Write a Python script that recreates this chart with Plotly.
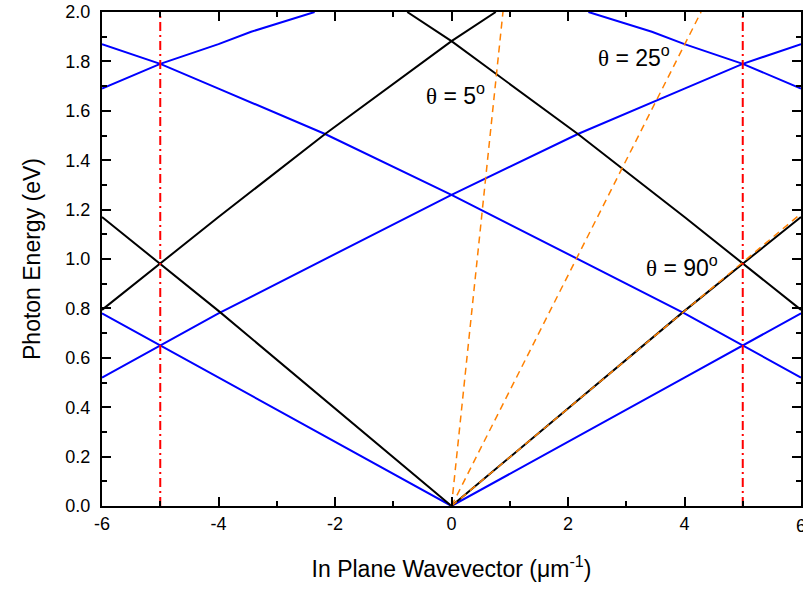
import numpy as np
import plotly.graph_objects as go

# Folded photon branches (k in 1/um, E in eV)
black_k0 = [-6, -5, -4, 0, 4, 5, 6]
black_e0 = [1.17, 0.981, 0.79, 0.0, 0.79, 0.981, 1.17]
black_kp = [-6, -5, -4, -2.17, 0, 0.76]
black_ep = [0.794, 0.981, 1.17, 1.506, 1.882, 2.0]
black_km = [6, 5, 4, 2.17, 0, -0.76]
black_em = [0.794, 0.981, 1.17, 1.506, 1.882, 2.0]

# Folded guided-mode branches
blue_k0 = [-6, -5, -4, 0, 4, 5, 6]
blue_e0 = [0.78, 0.65, 0.52, 0.0, 0.52, 0.65, 0.78]
blue_kp = [-6, -5, -4, 0, 2.17, 4, 5, 6]
blue_ep = [0.52, 0.65, 0.78, 1.26, 1.506, 1.69, 1.79, 1.87]
blue_km = [6, 5, 4, 0, -2.17, -4, -5, -6]
blue_em = [0.52, 0.65, 0.78, 1.26, 1.506, 1.69, 1.79, 1.87]
blue_kpp = [-6, -5, -4, -3.44, -2.35]
blue_epp = [1.69, 1.79, 1.87, 1.92, 2.0]
blue_kmm = [6, 5, 4, 3.44, 2.35]
blue_emm = [1.69, 1.79, 1.87, 1.92, 2.0]

# Incidence angles (deg) for the light lines E = hbar*c*k / sin(theta)
angles = [5, 25, 90]
hbar_c = 0.1973  # eV*um
zone_edges = [-5, 5]

x_ticks = [-6, -4, -2, 0, 2, 4, 6]
x_ticktext = ["-6", "-4", "-2", "0", "2", "4", "6"]

fig = go.Figure()

for kx, ey in [(blue_k0, blue_e0), (blue_kp, blue_ep), (blue_km, blue_em),
               (blue_kpp, blue_epp), (blue_kmm, blue_emm)]:
    fig.add_trace(go.Scatter(x=kx, y=ey, mode="lines", line=dict(color="#0000FF", width=2),
                             showlegend=False, hoverinfo="skip"))

for kx, ey in [(black_k0, black_e0), (black_kp, black_ep), (black_km, black_em)]:
    fig.add_trace(go.Scatter(x=kx, y=ey, mode="lines", line=dict(color="black", width=2),
                             showlegend=False, hoverinfo="skip"))

for th in angles:
    slope = hbar_c / np.sin(np.radians(th))
    kmax = min(6.0, 2.0 / slope)
    fig.add_trace(go.Scatter(x=[0, kmax], y=[0, slope * kmax], mode="lines",
                             line=dict(color="#FF8000", width=1.5, dash="7px,5px"),
                             showlegend=False, hoverinfo="skip"))

for kz in zone_edges:
    fig.add_trace(go.Scatter(x=[kz, kz], y=[0, 2], mode="lines",
                             line=dict(color="#FF0000", width=2, dash="9px,4px,2px,4px"),
                             showlegend=False, hoverinfo="skip"))

theta_span = '<span style="font-family:Liberation Serif">θ</span>'
labels = [(0.06, 1.67, "5"), (3.13, 1.82, "25"), (3.95, 0.97, "90")]
for lx, ly, ang in labels:
    fig.add_annotation(x=lx, y=ly, text=f"{theta_span} = {ang}<sup>o</sup>", showarrow=False,
                       font=dict(family="Liberation Sans", size=23, color="black"))

tick_font = dict(family="Liberation Sans", size=18, color="black")

# the last x label sits on the page edge, so it is drawn as an annotation
fig.add_annotation(x=x_ticks[-1], y=0, xref="x", yref="y", text=x_ticktext[-1],
                   showarrow=False, yanchor="top", yshift=-8, font=tick_font)

axis_common = dict(showline=True, linecolor="black", linewidth=2, mirror="ticks",
                   ticks="inside", ticklen=9, tickwidth=1.5, tickcolor="black",
                   showgrid=False, zeroline=False, automargin=False, tickfont=tick_font)

fig.update_xaxes(range=[-6, 6], tickvals=x_ticks[:-1], ticktext=x_ticktext[:-1],
                 minor=dict(ticks="inside", dtick=1, tick0=0, ticklen=5, tickwidth=1.5, tickcolor="black"),
                 title=dict(text="In Plane Wavevector (μm<sup>-1</sup>)", standoff=28,
                            font=dict(family="Liberation Sans", size=23, color="black")),
                 **axis_common)
fig.update_yaxes(range=[0, 2], dtick=0.2, tick0=0, tickformat=".1f", ticklabelstandoff=6,
                 minor=dict(ticks="inside", dtick=0.1, tick0=0, ticklen=5, tickwidth=1.5, tickcolor="black"),
                 title=dict(text="Photon Energy (eV)", standoff=18,
                            font=dict(family="Liberation Sans", size=23, color="black")),
                 **axis_common)

fig.update_layout(width=803, height=590, margin=dict(l=102, r=2, t=12, b=84),
                  plot_bgcolor="white", paper_bgcolor="white")

fig.write_html("out.html")
